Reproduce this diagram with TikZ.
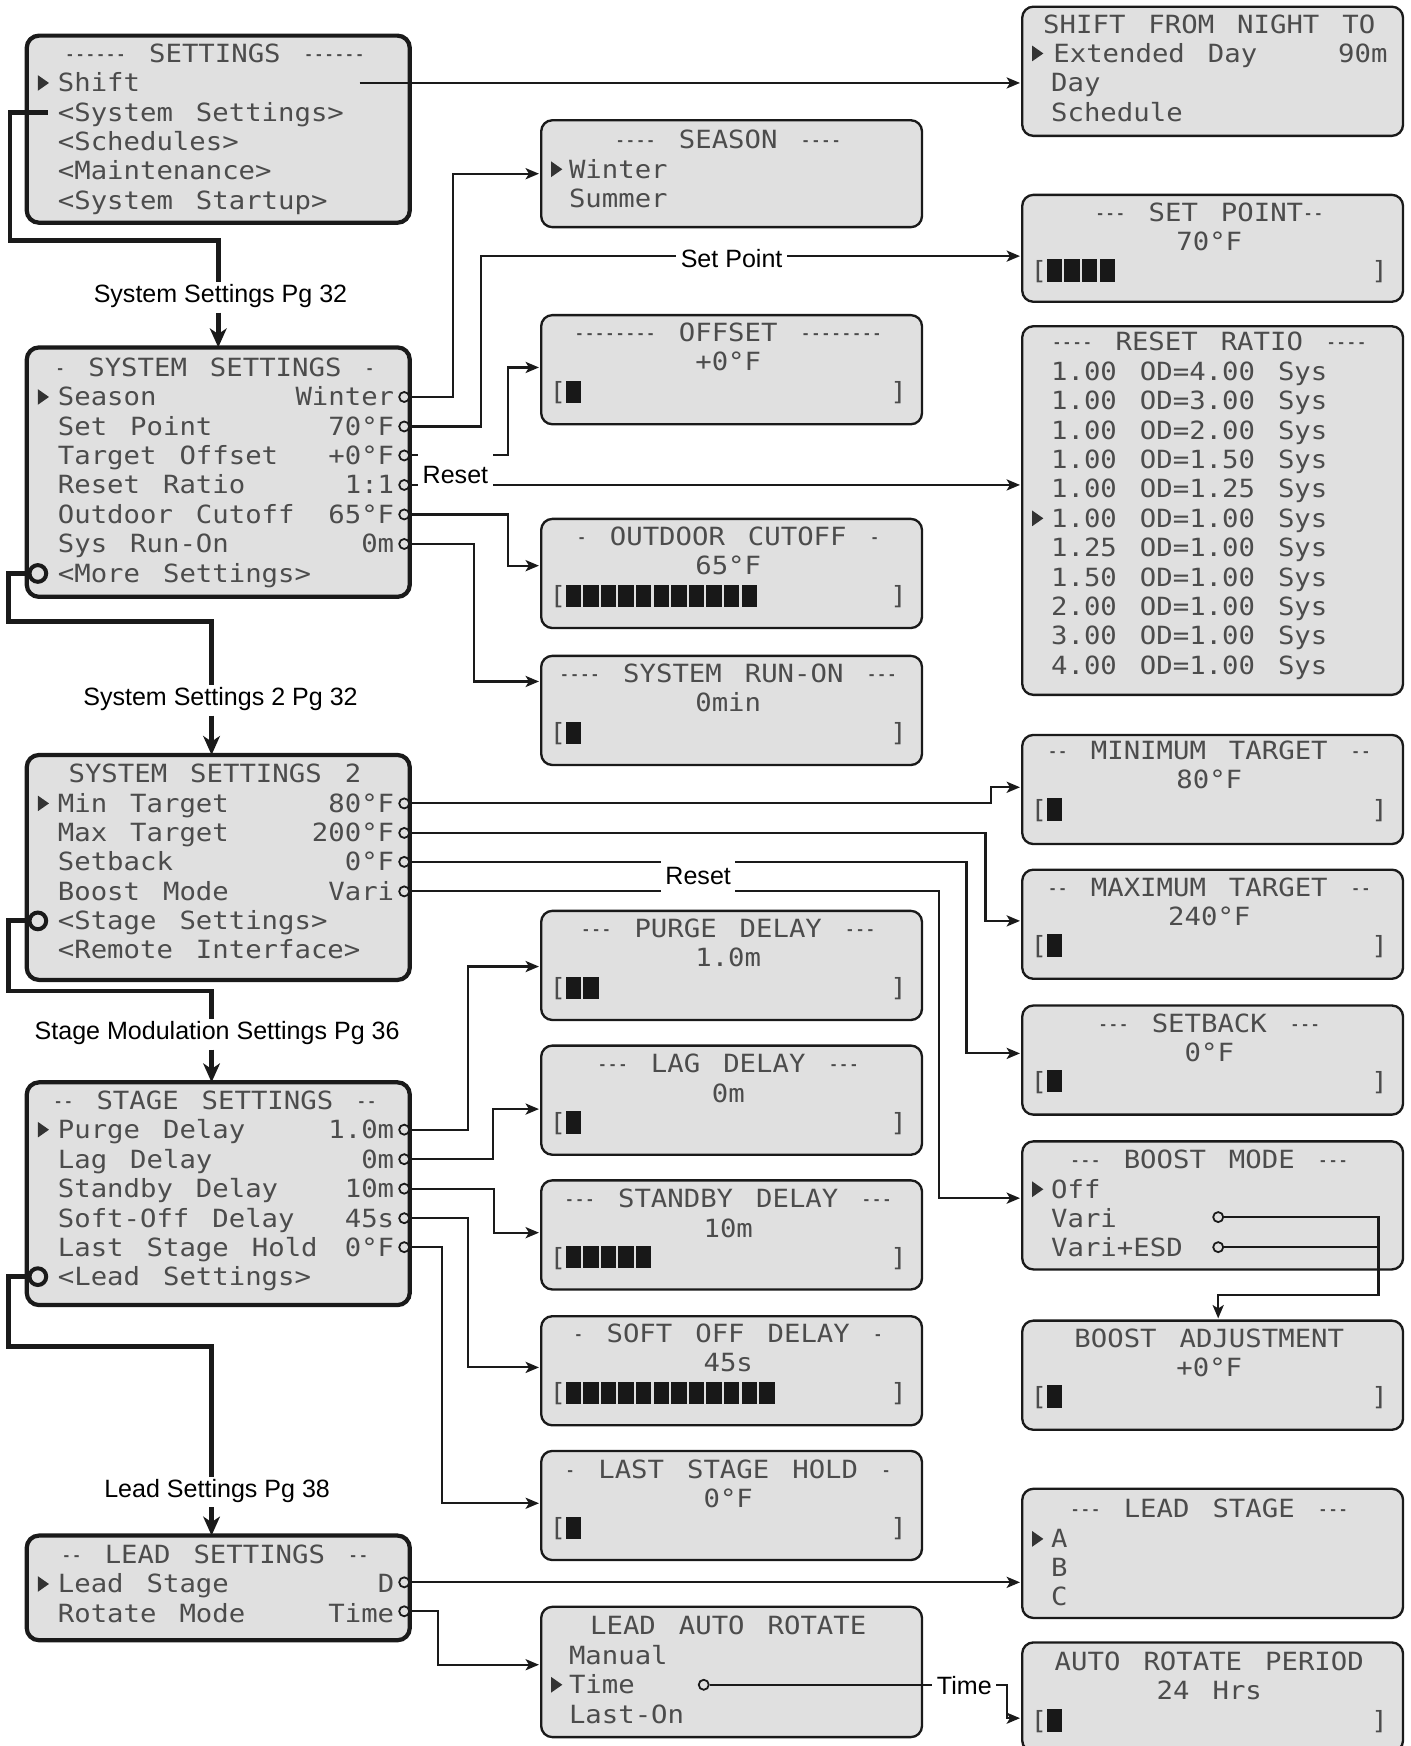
\documentclass[tikz,border=0pt]{standalone}
\usepackage{fontspec}
\usepackage{graphicx}
\setmainfont{Liberation Sans}
\newfontfamily\lcdfont{DejaVu Sans Mono}[FakeStretch=1.09,WordSpace=1.4]
\usetikzlibrary{arrows.meta}
\definecolor{lcdbg}{HTML}{E0E0E0}
\definecolor{lcdfg}{HTML}{4C4C4C}
\definecolor{lcdblk}{HTML}{181818}
\definecolor{lcdcur}{HTML}{333333}
\definecolor{ink}{HTML}{1A1A1A}
\newcounter{nn}
\newcommand\dsh[1]{\scalebox{0.62}[1]{\foreach\k in {1,...,#1}{-\kern0pt}}}
\newcommand\lcdL[3]{\stepcounter{nn}\node[lcdtxt,anchor=base west] (t\arabic{nn}) at (#1,#2+8) {#3};}
\newcommand\lcdR[3]{\stepcounter{nn}\node[lcdtxt,anchor=base east] (t\arabic{nn}) at (#1,#2+8) {#3};}
\newcommand\lcdC[3]{\stepcounter{nn}\node[lcdtxt,anchor=base] (t\arabic{nn}) at (#1,#2+8) {#3};}
\newcommand\lcdRow[5]{\lcdL{#1+28}{#3}{#4}\lcdR{#2-14}{#3}{#5}}
\newcommand\lcdCur[2]{\fill[lcdcur] (#1,#2-7) -- (#1+10,#2) -- (#1,#2+7) -- cycle;}
\newcommand\lcdBar[4]{\lcdC{#1+15}{#3}{[}\lcdC{#2-21}{#3}{]}%
  \foreach \i in {1,...,#4}{\fill[lcdblk] ({#1+22+15.8*(\i-1)},#3-10) rectangle +(13.8,20);}}
\newcommand\lcdBox[6]{\node[#1,minimum width={#4-#2},minimum height={#5-#3}] (#6) at ({(#2+#4)/2},{(#3+#5)/2}) {};}
\begin{document}
\begin{tikzpicture}[x=1pt,y=-1pt,
 thickbox/.style={draw=ink,line width=3.8pt,fill=lcdbg,rounded corners=11pt,inner sep=0pt,outer sep=0pt},
 thinbox/.style={draw=ink,line width=2.1pt,fill=lcdbg,rounded corners=10pt,inner sep=0pt,outer sep=0pt},
 lcdtxt/.style={inner sep=0pt,outer sep=0pt,text=lcdfg,font=\lcdfont\fontsize{22.5}{26}\selectfont},
 conn/.style={draw=ink,line width=1.9pt,-{Stealth[length=12pt,width=10pt,inset=3pt]},shorten >=2pt},
 connplain/.style={draw=ink,line width=1.9pt},
 route/.style={draw=ink,line width=4.4pt},
 routearrow/.style={draw=ink,line width=4.4pt,-{Stealth[length=17pt,width=15pt,inset=5pt]},shorten <=2pt},
 sc/.style={circle,draw=ink,line width=1.6pt,fill=lcdbg,minimum size=9pt,inner sep=0pt},
 bc/.style={circle,draw=ink,line width=3.6pt,fill=lcdbg,minimum size=15pt,inner sep=0pt},
 lbl/.style={font=\fontsize{22.5}{26}\selectfont,inner sep=2pt,text=black},
 lblw/.style={lbl,fill=white,inner xsep=4pt}]
\fill[white] (0,0) rectangle (1267,1568);
\useasboundingbox (0,0) rectangle (1267,1568);

% ---------- boxes ----------
\lcdBox{thickbox}{24}{32}{368}{200}{bset}
\lcdBox{thickbox}{24}{312}{368}{536}{bsys}
\lcdBox{thickbox}{24}{678}{368}{880}{bsysb}
\lcdBox{thickbox}{24}{972}{368}{1172}{bstage}
\lcdBox{thickbox}{24}{1379}{368}{1473}{blead}

\lcdBox{thinbox}{486}{108}{828}{204}{bseason}
\lcdBox{thinbox}{486}{283}{828}{381}{boffset}
\lcdBox{thinbox}{486}{466}{828}{564}{bout}
\lcdBox{thinbox}{486}{589}{828}{687}{brun}
\lcdBox{thinbox}{486}{818}{828}{916}{bpurge}
\lcdBox{thinbox}{486}{939}{828}{1037}{blag}
\lcdBox{thinbox}{486}{1060}{828}{1158}{bstandby}
\lcdBox{thinbox}{486}{1182}{828}{1280}{bsoft}
\lcdBox{thinbox}{486}{1303}{828}{1401}{blast}
\lcdBox{thinbox}{486}{1443}{828}{1560}{bauto}

\lcdBox{thinbox}{918}{6}{1260}{122}{bshift}
\lcdBox{thinbox}{918}{175}{1260}{271}{bsetpt}
\lcdBox{thinbox}{918}{293}{1260}{624}{breset}
\lcdBox{thinbox}{918}{660}{1260}{758}{bmin}
\lcdBox{thinbox}{918}{781}{1260}{879}{bmax}
\lcdBox{thinbox}{918}{903}{1260}{1001}{bsetback}
\lcdBox{thinbox}{918}{1025}{1260}{1140}{bboost}
\lcdBox{thinbox}{918}{1186}{1260}{1284}{bbadj}
\lcdBox{thinbox}{918}{1337}{1260}{1453}{bleadst}
\lcdBox{thinbox}{918}{1475}{1260}{1573}{bperiod}

% ---------- left column text ----------
\lcdC{193}{48}{\dsh{6} SETTINGS \dsh{6}}
\lcdCur{34}{74.5}
\lcdL{52}{74.5}{Shift}
\lcdL{52}{101}{<System Settings>}
\lcdL{52}{127}{<Schedules>}
\lcdL{52}{153.5}{<Maintenance>}
\lcdL{52}{180}{<System Startup>}

\lcdC{193}{330}{\dsh{1} SYSTEM SETTINGS \dsh{1}}
\lcdCur{34}{356.5}
\lcdRow{24}{368}{356.5}{Season}{Winter}
\lcdRow{24}{368}{383}{Set Point}{70°F}
\lcdRow{24}{368}{409}{Target Offset}{+0°F}
\lcdRow{24}{368}{435.5}{Reset Ratio}{1:1}
\lcdRow{24}{368}{462}{Outdoor Cutoff}{65°F}
\lcdRow{24}{368}{488.5}{Sys Run-On}{0m}
\lcdL{52}{515}{<More Settings>}

\lcdC{193}{695}{SYSTEM SETTINGS 2}
\lcdCur{34}{721.5}
\lcdRow{24}{368}{721.5}{Min Target}{80°F}
\lcdRow{24}{368}{748}{Max Target}{200°F}
\lcdRow{24}{368}{774}{Setback}{0°F}
\lcdRow{24}{368}{800.5}{Boost Mode}{Vari}
\lcdL{52}{827}{<Stage Settings>}
\lcdL{52}{853}{<Remote Interface>}

\lcdC{193}{988}{\dsh{2} STAGE SETTINGS \dsh{2}}
\lcdCur{34}{1014.5}
\lcdRow{24}{368}{1014.5}{Purge Delay}{1.0m}
\lcdRow{24}{368}{1041}{Lag Delay}{0m}
\lcdRow{24}{368}{1067.5}{Standby Delay}{10m}
\lcdRow{24}{368}{1094}{Soft-Off Delay}{45s}
\lcdRow{24}{368}{1120}{Last Stage Hold}{0°F}
\lcdL{52}{1146.5}{<Lead Settings>}

\lcdC{193}{1396}{\dsh{2} LEAD SETTINGS \dsh{2}}
\lcdCur{34}{1422.5}
\lcdRow{24}{368}{1422.5}{Lead Stage}{D}
\lcdRow{24}{368}{1449}{Rotate Mode}{Time}

% ---------- middle column text ----------
\lcdC{654}{125}{\dsh{4} SEASON \dsh{4}}
\lcdCur{495}{152}
\lcdL{511}{152}{Winter}
\lcdL{511}{178}{Summer}

\lcdC{654}{299}{\dsh{8} OFFSET \dsh{8}}
\lcdC{654}{325}{+0°F}
\lcdBar{486}{828}{352}{1}

\lcdC{654}{482}{\dsh{1} OUTDOOR CUTOFF \dsh{1}}
\lcdC{654}{508}{65°F}
\lcdBar{486}{828}{535}{11}

\lcdC{654}{605}{\dsh{4} SYSTEM RUN-ON \dsh{3}}
\lcdC{654}{631}{0min}
\lcdBar{486}{828}{658}{1}

\lcdC{654}{834}{\dsh{3} PURGE DELAY \dsh{3}}
\lcdC{654}{860}{1.0m}
\lcdBar{486}{828}{887}{2}

\lcdC{654}{955}{\dsh{3} LAG DELAY \dsh{3}}
\lcdC{654}{982}{0m}
\lcdBar{486}{828}{1008}{1}

\lcdC{654}{1076}{\dsh{3} STANDBY DELAY \dsh{3}}
\lcdC{654}{1103}{10m}
\lcdBar{486}{828}{1129}{5}

\lcdC{654}{1198}{\dsh{1} SOFT OFF DELAY \dsh{1}}
\lcdC{654}{1224}{45s}
\lcdBar{486}{828}{1251}{12}

\lcdC{654}{1320}{\dsh{1} LAST STAGE HOLD \dsh{1}}
\lcdC{654}{1346}{0°F}
\lcdBar{486}{828}{1372}{1}

\lcdC{654}{1460}{LEAD AUTO ROTATE}
\lcdL{511}{1487}{Manual}
\lcdCur{495}{1513}
\lcdL{511}{1513}{Time}
\lcdL{511}{1540}{Last-On}

% ---------- right column text ----------
\lcdC{1086}{22}{SHIFT FROM NIGHT TO}
\lcdCur{927}{48}
\lcdRow{918}{1260}{48}{Extended Day}{90m}
\lcdL{944}{74.5}{Day}
\lcdL{944}{101}{Schedule}

\lcdC{1086}{191}{\dsh{3} SET POINT\dsh{2}}
\lcdC{1086}{217}{70°F}
\lcdBar{918}{1260}{243}{4}

\lcdC{1086}{307}{\dsh{4} RESET RATIO \dsh{4}}
\lcdL{944}{333.5}{1.00 OD=4.00 Sys}
\lcdL{944}{359.9}{1.00 OD=3.00 Sys}
\lcdL{944}{386.3}{1.00 OD=2.00 Sys}
\lcdL{944}{412.7}{1.00 OD=1.50 Sys}
\lcdL{944}{439.1}{1.00 OD=1.25 Sys}
\lcdCur{927}{465.5}
\lcdL{944}{465.5}{1.00 OD=1.00 Sys}
\lcdL{944}{491.9}{1.25 OD=1.00 Sys}
\lcdL{944}{518.3}{1.50 OD=1.00 Sys}
\lcdL{944}{544.7}{2.00 OD=1.00 Sys}
\lcdL{944}{571.1}{3.00 OD=1.00 Sys}
\lcdL{944}{597.5}{4.00 OD=1.00 Sys}

\lcdC{1086}{674}{\dsh{2} MINIMUM TARGET \dsh{2}}
\lcdC{1086}{700}{80°F}
\lcdBar{918}{1260}{727}{1}

\lcdC{1086}{797}{\dsh{2} MAXIMUM TARGET \dsh{2}}
\lcdC{1086}{823}{240°F}
\lcdBar{918}{1260}{849}{1}

\lcdC{1086}{919}{\dsh{3} SETBACK \dsh{3}}
\lcdC{1086}{945}{0°F}
\lcdBar{918}{1260}{971}{1}

\lcdC{1086}{1041}{\dsh{3} BOOST MODE \dsh{3}}
\lcdCur{927}{1068}
\lcdL{944}{1068}{Off}
\lcdL{944}{1094}{Vari}
\lcdL{944}{1120}{Vari+ESD}

\lcdC{1086}{1202}{BOOST ADJUSTMENT}
\lcdC{1086}{1228}{+0°F}
\lcdBar{918}{1260}{1254}{1}

\lcdC{1086}{1355}{\dsh{3} LEAD STAGE \dsh{3}}
\lcdCur{927}{1382}
\lcdL{944}{1382}{A}
\lcdL{944}{1408}{B}
\lcdL{944}{1434}{C}

\lcdC{1086}{1492}{AUTO ROTATE PERIOD}
\lcdC{1086}{1518}{24 Hrs}
\lcdBar{918}{1260}{1545}{1}

% ---------- circles ----------
\node[sc] (csea) at (363,356.5) {};
\node[sc] (cspt) at (363,383) {};
\node[sc] (coff) at (363,409) {};
\node[sc] (crr) at (363,435.5) {};
\node[sc] (cout) at (363,462) {};
\node[sc] (crun) at (363,488.5) {};
\node[sc] (cmin) at (363,721.5) {};
\node[sc] (cmax) at (363,748) {};
\node[sc] (csb) at (363,774) {};
\node[sc] (cbm) at (363,800.5) {};
\node[sc] (cpur) at (363,1014.5) {};
\node[sc] (clag) at (363,1041) {};
\node[sc] (cstb) at (363,1067.5) {};
\node[sc] (csoft) at (363,1094) {};
\node[sc] (clast) at (363,1120) {};
\node[sc] (clst) at (363,1421) {};
\node[sc] (crot) at (363,1447) {};
\node[sc] (ctime) at (632,1513) {};
\node[sc] (cvari) at (1094,1093) {};
\node[sc] (cvesd) at (1094,1120) {};
\node[bc] (bma) at (34,515) {};
\node[bc] (bmb) at (34,827) {};
\node[bc] (bmc) at (34,1146.5) {};

% ---------- page labels and thick routes ----------
\node[lbl] (l1) at (198,266) {System Settings Pg 32};
\node[lbl] (l2) at (198,628) {System Settings 2 Pg 32};
\node[lbl] (l3) at (195,928) {Stage Modulation Settings Pg 36};
\node[lbl] (l4) at (195,1339) {Lead Settings Pg 38};
\coordinate (rstart) at (43,101);
\draw[route] (rstart) -| (9,216) -| (l1.north -| 196,0);
\draw[routearrow] (l1.south -| 196,0) -- (bsys.north -| 196,0);
\draw[route] (bma.west) -| (8,558) -| (l2.north -| 190,0);
\draw[routearrow] (l2.south -| 190,0) -- (bsysb.north -| 190,0);
\draw[route] (bmb.west) -| (8,890) -| (l3.north -| 190,0);
\draw[routearrow] (l3.south -| 190,0) -- (bstage.north -| 190,0);
\draw[route] (bmc.west) -| (8,1209) -| (l4.north -| 190,0);
\draw[routearrow] (l4.south -| 190,0) -- (blead.north -| 190,0);

% ---------- thin connectors ----------
\coordinate (shout) at (323,74.5);
\draw[conn] (shout) -- (bshift.west |- shout);
\draw[conn] (csea.east) -| (407,156) -- (bseason.west |- 0,156);
\draw[conn] (cspt.east) -| (432,230) -- (bsetpt.west |- 0,230);
\draw[conn] (coff.east) -| (456,330) -- (boffset.west |- 0,330);
\draw[conn] (crr.east) -- (breset.west |- crr.east);
\draw[conn] (cout.east) -| (456,508) -- (bout.west |- 0,508);
\draw[conn] (crun.east) -| (426,612) -- (brun.west |- 0,612);
\draw[conn] (cmin.east) -| (890,707) -- (bmin.west |- 0,707);
\draw[conn] (cmax.east) -| (885,827) -- (bmax.west |- 0,827);
\draw[conn] (csb.east) -| (868,946) -- (bsetback.west |- 0,946);
\draw[conn] (cbm.east) -| (843,1076) -- (bboost.west |- 0,1076);
\draw[conn] (cpur.east) -| (420,868) -- (bpurge.west |- 0,868);
\draw[conn] (clag.east) -| (443,996) -- (blag.west |- 0,996);
\draw[conn] (cstb.east) -| (444,1107) -- (bstandby.west |- 0,1107);
\draw[conn] (csoft.east) -| (420,1228) -- (bsoft.west |- 0,1228);
\draw[conn] (clast.east) -| (397,1350) -- (blast.west |- 0,1350);
\draw[conn] (clst.east) -- (bleadst.west |- clst.east);
\draw[conn] (crot.east) -| (393,1495) -- (bauto.west |- 0,1495);
\draw[conn] (ctime.east) -| (904,1543) -- (bperiod.west |- 0,1543);
\draw[conn] (cvari.east) -| (1238,1163) -| (bbadj.north -| 1094,0);
\draw[connplain] (cvesd.east) -- (cvesd.east -| 1238,0);

% ---------- connector labels ----------
\node[lblw] (lsp) at (657,232) {Set Point};
\node[lblw,minimum width=62pt,minimum height=40pt] (lra) at (409,427) {Reset};
\node[lblw,minimum width=64pt,minimum height=40pt] (lrb) at (627,787) {Reset};
\node[lblw] (ltm) at (866,1514) {Time};
\end{tikzpicture}
\end{document}
